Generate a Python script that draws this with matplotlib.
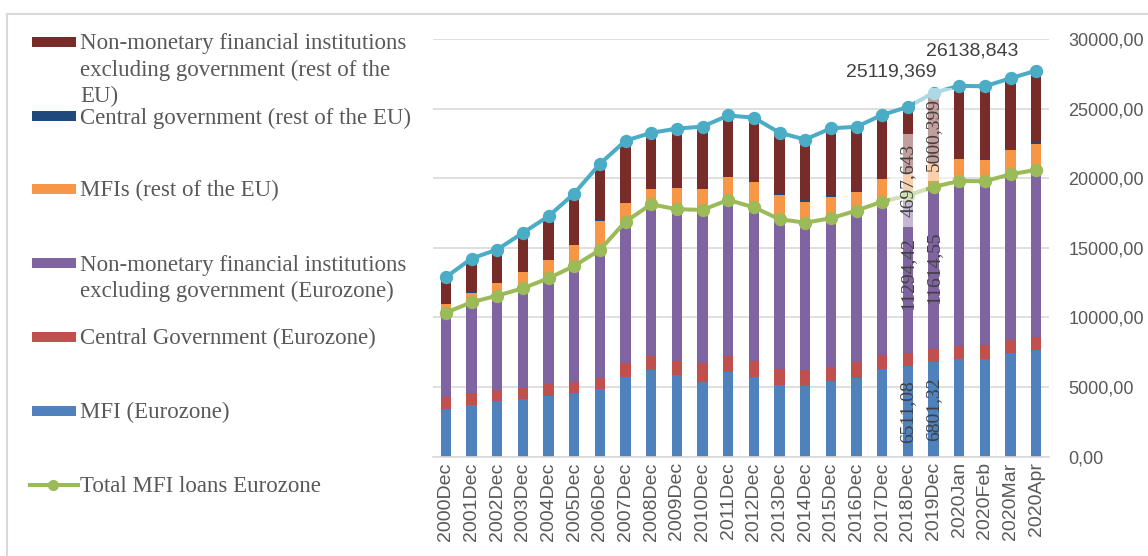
import matplotlib
matplotlib.use("Agg")
import matplotlib.pyplot as plt
import numpy as np
from matplotlib.lines import Line2D
from matplotlib.patches import Rectangle
from matplotlib.ticker import FuncFormatter

# Periods on the x axis
periods = ['2000Dec', '2001Dec', '2002Dec', '2003Dec', '2004Dec', '2005Dec',
           '2006Dec', '2007Dec', '2008Dec', '2009Dec', '2010Dec', '2011Dec',
           '2012Dec', '2013Dec', '2014Dec', '2015Dec', '2016Dec', '2017Dec',
           '2018Dec', '2019Dec', '2020Jan', '2020Feb', '2020Mar', '2020Apr']

# Stacked series, bottom to top
mfi_ez = [3400, 3740, 3980, 4145, 4380, 4555, 4860, 5750, 6230, 5870, 5390, 6065,
          5700, 5150, 5100, 5440, 5675, 6280, 6511.08, 6801.32, 7020, 7020, 7430, 7665]
gov_ez = [880, 815, 810, 810, 820, 790, 815, 960, 1025, 1005, 1320, 1190,
          1175, 1130, 1130, 1025, 1150, 1025, 960, 958, 955, 1005, 955, 955]
nmfi_ez = [6060, 6540, 6775, 7140, 7615, 8355, 9175, 10175, 10875, 10900, 11015, 11185,
           11040, 10775, 10580, 10660, 10850, 11015, 11294.42, 11614.55, 11830, 11760, 11900, 11975]
mfi_eu = [600, 690, 890, 1150, 1315, 1510, 2085, 1320, 1080, 1510, 1490, 1630,
          1840, 1745, 1510, 1550, 1370, 1610, 1626.226, 1734.574, 1560, 1560, 1755, 1850]
gov_eu = [30, 30, 30, 30, 30, 30, 60, 40, 30, 40, 40, 40,
          40, 40, 150, 40, 50, 50, 30, 30, 40, 40, 40, 180]
nmfi_eu = [1918, 2420, 2390, 2800, 3110, 3660, 4030, 4450, 4020, 4240, 4450, 4400,
           4555, 4430, 4310, 4870, 4600, 4570, 4697.643, 5000.399, 5230, 5220, 5100, 5100]

series = [
    (mfi_ez, '#4f81bd', 'MFI (Eurozone)'),
    (gov_ez, '#c0504d', 'Central Government (Eurozone)'),
    (nmfi_ez, '#8064a2', 'Non-monetary financial institutions\nexcluding government (Eurozone)'),
    (mfi_eu, '#f79646', 'MFIs (rest of the EU)'),
    (gov_eu, '#1f497d', 'Central government (rest of the EU)'),
    (nmfi_eu, '#772c2a', 'Non-monetary financial institutions\nexcluding government (rest of the\nEU)'),
]

W, H = 1148, 556
fig = plt.figure(figsize=(W / 100, H / 100), dpi=100)


def fx(px):
    return px / W


def fy(py):
    return 1 - py / H


ax = fig.add_axes([fx(433), fy(456.7), (1049 - 433) / W, (456.7 - 39) / H])

x = np.arange(len(periods))
bottom = np.zeros(len(periods))
for vals, color, _ in series:
    ax.bar(x, vals, 0.4, bottom=bottom, color=color, zorder=2)
    bottom += np.array(vals)

total_all = bottom
total_ez = np.array(mfi_ez) + np.array(gov_ez) + np.array(nmfi_ez)

ax.plot(x, total_all, color='#4bacc6', lw=2.9, marker='o', ms=8.6, zorder=3)
ax.plot(x, total_ez, color='#9bbb59', lw=2.9, marker='o', ms=8.6, zorder=3)

ax.set_xlim(-0.5, len(periods) - 0.5)
ax.set_ylim(0, 30000)
ax.set_yticks(np.arange(0, 30001, 5000))
ax.yaxis.tick_right()
ax.yaxis.set_major_formatter(FuncFormatter(lambda v, p: f"{v:.2f}".replace('.', ',')))
ax.grid(axis='y', color='#d9d9d9', lw=1.2, zorder=0)
ax.set_axisbelow(True)
for s in ['top', 'left', 'right']:
    ax.spines[s].set_visible(False)
ax.spines['bottom'].set_color('#d9d9d9')
ax.spines['bottom'].set_linewidth(1.2)

ax.set_xticks(x)
ax.set_xticklabels(periods, rotation=90, family='Liberation Sans', fontsize=14, color='#595959')
ax.tick_params(axis='x', length=0, pad=4)
ax.tick_params(axis='y', length=0, pad=14, labelsize=13, labelcolor='#595959')
for t in ax.get_yticklabels():
    t.set_family('Liberation Sans')

# Data labels for 2018Dec and 2019Dec
lab_font = dict(family='Liberation Serif', fontsize=14, color='#404040',
                rotation=90, ha='center', va='center', zorder=5)
box = dict(boxstyle='square,pad=0.5', facecolor='white', edgecolor='none', alpha=0.55)
dr_offsets = {18: -41, 19: -7}
for i in (18, 19):
    ax.text(i, mfi_ez[i] / 2, f"{mfi_ez[i]:.2f}".replace('.', ','), **lab_font)
    ax.text(i, mfi_ez[i] + gov_ez[i] + nmfi_ez[i] / 2,
            f"{nmfi_ez[i]:.2f}".replace('.', ','), **lab_font)
    seg_mid = total_all[i] - nmfi_eu[i] / 2
    ax.annotate(f"{nmfi_eu[i]:.3f}".replace('.', ','), (i, seg_mid),
                xytext=(0, dr_offsets[i] * 0.72), textcoords='offset points',
                bbox=box, **lab_font)

tot_offsets = {18: (-17, 35), 19: (39, 42)}
for i in (18, 19):
    dx, dy = tot_offsets[i]
    ax.annotate(f"{total_all[i]:.3f}".replace('.', ','), (i, total_all[i]),
                xytext=(dx * 0.72, dy * 0.72), textcoords='offset points',
                ha='center', va='center', family='Liberation Sans', fontsize=14,
                color='#404040', zorder=5)

# Legend drawn on the figure
leg_rows = [
    (42, series[5]),
    (116, series[4]),
    (189, series[3]),
    (263, series[2]),
    (337, series[1]),
    (411, series[0]),
]
for yc, (_, color, label) in leg_rows:
    fig.patches.append(Rectangle((fx(32), fy(yc + 5)), (76 - 32) / W, 10 / H,
                                 transform=fig.transFigure, facecolor=color,
                                 edgecolor='none'))
    for k, line in enumerate(label.split('\n')):
        fig.text(fx(80), fy(yc + 7.5 + 26.3 * k), line, family='Liberation Serif',
                 fontsize=16.5, color='#595959', va='baseline', ha='left')

fig.add_artist(Line2D([fx(30), fx(78)], [fy(485), fy(485)], color='#9bbb59', lw=2.9,
                      transform=fig.transFigure))
fig.add_artist(Line2D([fx(53)], [fy(485)], color='#9bbb59', marker='o', ms=7,
                      transform=fig.transFigure))
fig.text(fx(80), fy(492.5), 'Total MFI loans Eurozone', family='Liberation Serif',
         fontsize=16.5, color='#595959', va='baseline', ha='left')

# Chart border
fig.add_artist(Line2D([fx(7), fx(1148)], [fy(14), fy(14)], color='#d9d9d9', lw=1.5,
                      transform=fig.transFigure))
fig.add_artist(Line2D([fx(7), fx(7)], [fy(14), fy(556)], color='#d9d9d9', lw=1.5,
                      transform=fig.transFigure))

fig.savefig('out.png', dpi=100)
